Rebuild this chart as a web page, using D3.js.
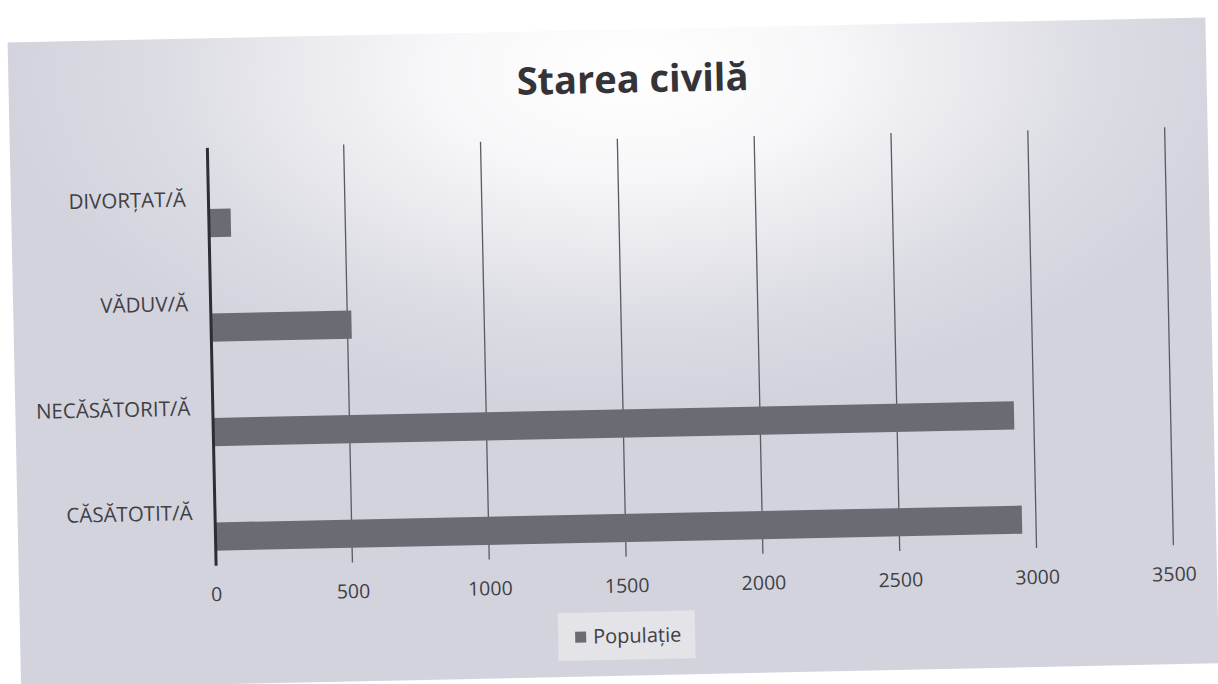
<!DOCTYPE html>
<html><head><meta charset="utf-8">
<script src="https://cdn.jsdelivr.net/npm/d3@7"></script>
<style>body{margin:0;background:#fff;} svg{display:block}</style>
</head><body>
<svg id="c" width="1218" height="684"></svg>
<script>
const title = "Starea civilă";
const categories = ["DIVORȚAT/Ă", "VĂDUV/Ă", "NECĂSĂTORIT/Ă", "CĂSĂTOTIT/Ă"];
const values = [82, 515, 2928, 2949];
const xTicks = [0, 500, 1000, 1500, 2000, 2500, 3000, 3500];
const seriesName = "Populație";

const svg = d3.select("#c");
const font = "'Open Sans', Lato, sans-serif";

const defs = svg.append("defs");
const grad = defs.append("radialGradient").attr("id", "bg")
  .attr("cx", 0.52).attr("cy", 0.06).attr("r", 0.52);
grad.append("stop").attr("offset", 0).attr("stop-color", "#ffffff");
grad.append("stop").attr("offset", 0.32).attr("stop-color", "#f7f7f9");
grad.append("stop").attr("offset", 0.75).attr("stop-color", "#dcdce4");
grad.append("stop").attr("offset", 1).attr("stop-color", "#d3d3de");

const g = svg.append("g").attr("transform", "rotate(-1.2,609,342)");

g.append("rect").attr("x", 14).attr("y", 30).attr("width", 1198).attr("height", 646)
  .attr("fill", "url(#bg)");

const x = d3.scaleLinear().domain([0, 3500]).range([211, 1169]);
const y = d3.scaleBand().domain(categories).range([139, 557]);
const bw = y.bandwidth();

// gridlines
g.append("g").selectAll("line").data(xTicks.filter(d => d > 0)).join("line")
  .attr("x1", d => x(d)).attr("x2", d => x(d))
  .attr("y1", 139).attr("y2", 557)
  .attr("stroke", "#5a5a62").attr("stroke-width", 1.3);

// bars
g.append("g").selectAll("rect").data(categories).join("rect")
  .attr("x", x(0)).attr("y", (c) => y(c) + bw * 0.59)
  .attr("width", (c, i) => x(values[i]) - x(0))
  .attr("height", bw * 0.27)
  .attr("fill", "#6b6b74");

// x axis
const xa = g.append("g").attr("transform", "translate(0,557)")
  .call(d3.axisBottom(x).tickValues(xTicks).tickSize(0).tickPadding(22).tickFormat(d3.format("d")));
xa.select(".domain").remove();
xa.selectAll("text").attr("font-family", font).attr("font-size", 19.5).attr("fill", "#404044");

// y axis
const ya = g.append("g").attr("transform", `translate(${x(0)},0)`)
  .call(d3.axisLeft(y).tickSize(0).tickSizeOuter(0).tickPadding(22));
ya.select(".domain").attr("stroke", "#2e2e34").attr("stroke-width", 3);
ya.selectAll("text").attr("font-family", font).attr("font-size", 20.5).attr("fill", "#404044");

// title
g.append("text").attr("x", 638).attr("y", 93).attr("text-anchor", "middle")
  .attr("font-family", font).attr("font-weight", 700).attr("font-size", 38)
  .attr("fill", "#333338").text(title);

// legend
const lg = g.append("g");
lg.append("rect").attr("x", 552).attr("y", 612).attr("width", 137).attr("height", 48)
  .attr("fill", "#e3e3e8");
lg.append("rect").attr("x", 569).attr("y", 631).attr("width", 11).attr("height", 11)
  .attr("fill", "#6b6b74");
lg.append("text").attr("x", 587).attr("y", 643).attr("font-family", font)
  .attr("font-size", 20).attr("fill", "#404044").text(seriesName);
</script>
</body></html>
